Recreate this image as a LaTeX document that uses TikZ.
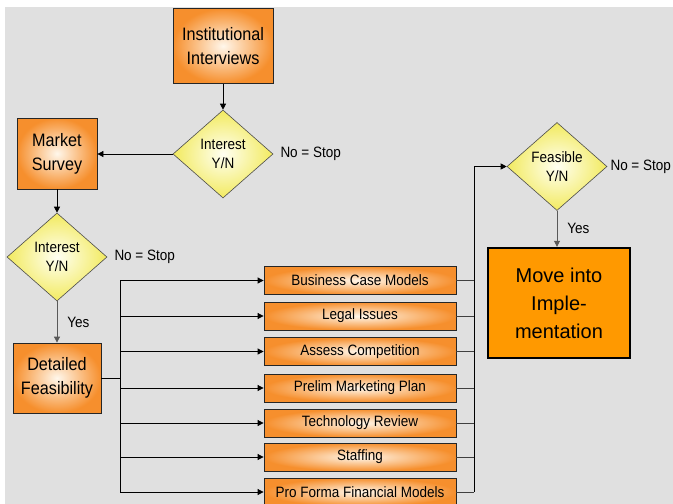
\documentclass[tikz,border=0pt]{standalone}
\usepackage{fontspec}
\setmainfont{Liberation Sans}[FakeStretch=0.9]
\newfontfamily\widesans{Liberation Sans}
\usetikzlibrary{shapes.geometric,arrows.meta}
\definecolor{boxorange}{RGB}{246,143,45}
\definecolor{glow}{RGB}{255,247,235}
\definecolor{diayellow}{RGB}{242,234,95}
\definecolor{moveorange}{RGB}{255,153,0}
\definecolor{sheet}{RGB}{224,224,224}

\begin{document}
\begin{tikzpicture}[x=1pt,y=-1pt]
        \tikzstyle{stage} = [rectangle, draw=black!85, line width=0.8pt, shading=radial, inner color=glow, outer color=boxorange, align=center, inner sep=0pt, font=\fontsize{18}{24}\selectfont]
        \tikzstyle{task} = [stage, minimum width=192pt, minimum height=28pt, font=\fontsize{15}{18}\selectfont]
        \tikzstyle{q} = [diamond, draw=black!70, line width=0.6pt, shading=radial, inner color=yellow!5, outer color=diayellow, align=center, inner sep=0pt, minimum width=100pt, minimum height=88pt, font=\fontsize{15}{19}\selectfont]
        \tikzstyle{lbl} = [font=\fontsize{15}{18}\selectfont, inner sep=2pt, text=black]
        \tikzstyle{e} = [line width=0.8pt];
        \tikzstyle{a} = [e, -{Triangle[length=6pt,width=6pt]}];

        \useasboundingbox (0,0) rectangle (673,504);
        \fill[white] (0,0) rectangle (673,504);
        \fill[sheet] (5,7) rectangle (673,504);

        \node[stage, minimum width=100pt, minimum height=75pt](inst) at (223,46){Institutional\\Interviews};
        \node[q](int1) at (223,154){Interest\\Y/N};
        \node[lbl, anchor=west, xshift=5pt](stop1) at (int1.east){No = Stop};
        \node[stage, minimum width=80pt, minimum height=71pt](market) at (57,153.5){Market\\Survey};
        \node[q](int2) at (57,257){Interest\\Y/N};
        \node[lbl, anchor=west, xshift=5pt](stop2) at (int2.east){No = Stop};
        \node[stage, minimum width=88pt, minimum height=70pt](detail) at (57,378){Detailed\\Feasibility};

        \node[q](feas) at (557,166.5){Feasible\\Y/N};
        \node[lbl, anchor=west, xshift=1pt](stop3) at (feas.east){No = Stop};
        \node[draw=black, line width=2.4pt, fill=moveorange, minimum width=142pt, minimum height=110pt, align=center, font=\widesans\fontsize{20}{28}\selectfont](move) at (559,303){Move into\\Imple-\\mentation};

        \coordinate(trunk) at (120,378);
        \coordinate(coll) at (474,166.5);

        \draw[a](inst)--(int1);
        \draw[a](int1.west)--(int1.west -| market.east);
        \draw[a](market)--(int2);
        \draw[a, black!65](int2)-- node[lbl, right, xshift=8pt]{Yes} (detail);

        \foreach \y/\txt [count=\i] in {280.5/Business Case Models, 316/Legal Issues, 351.5/Assess Competition, 388/Prelim Marketing Plan, 423/Technology Review, 457/Staffing, 492/Pro Forma Financial Models}{
          \node[task](t\i) at (360,\y){\txt};
          \draw[a](trunk |- t\i.west)--(t\i.west);
          \draw[e, black!75](t\i.east)--(coll |- t\i.east);
        }

        \draw[e](detail.east)--(trunk);
        \draw[e](trunk |- t1.west)--(trunk |- t7.west);
        \draw[e](coll |- t7.east)--(coll);
        \draw[a](coll)--(feas.west);
        \draw[a, black!65](feas.south)-- node[lbl, right, xshift=8pt]{Yes} (feas.south |- move.north);

    \end{tikzpicture}
\end{document}
